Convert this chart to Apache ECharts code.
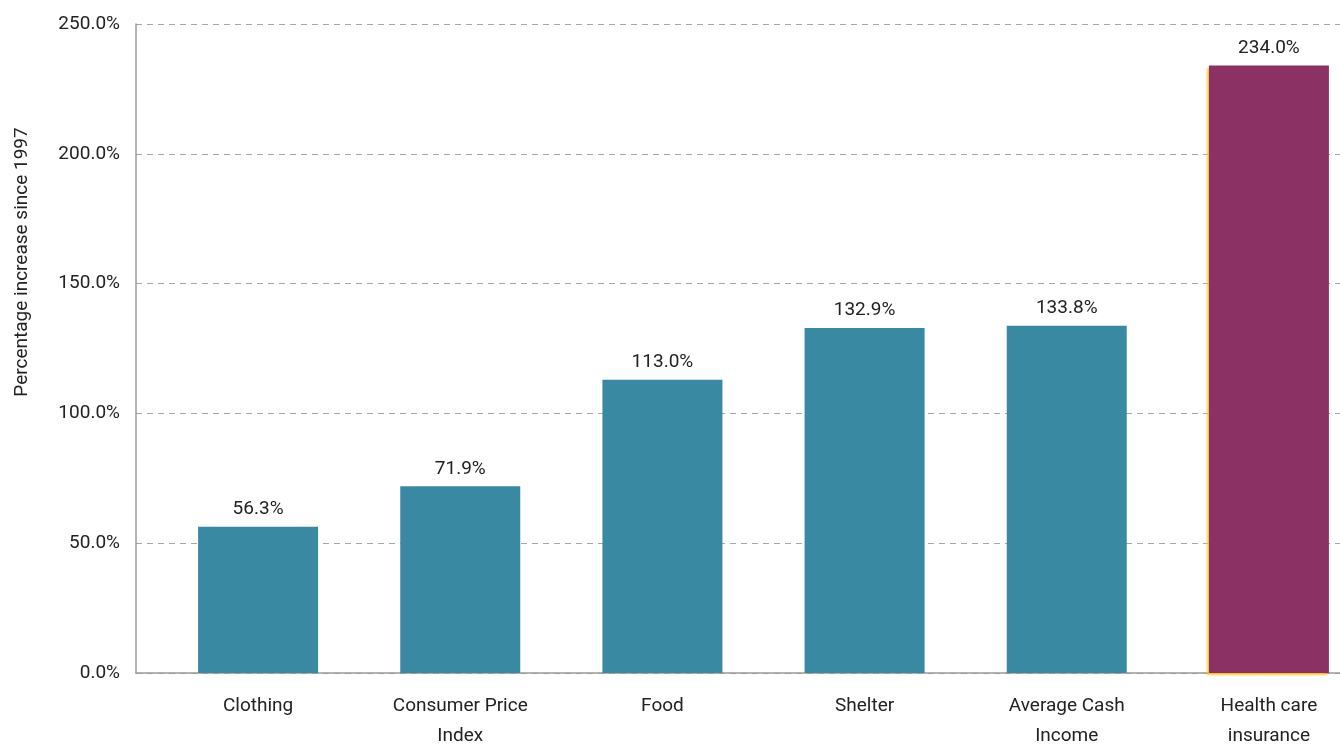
<!DOCTYPE html>
<html><head><meta charset="utf-8">
<script src="https://cdn.jsdelivr.net/npm/echarts@6/dist/echarts.min.js"></script>
<style>html,body{margin:0;padding:0;background:#fff}#c{width:1340px;height:744px}</style>
</head><body><div id="c"></div>
<script>
const categories = ['Clothing', 'Consumer Price\nIndex', 'Food', 'Shelter', 'Average Cash\nIncome', 'Health care\ninsurance'];
const values = [56.3, 71.9, 113.0, 132.9, 133.8, 234.0];
const yTicks = [0, 50, 100, 150, 200, 250];
const barColors = ['#3a89a3', '#3a89a3', '#3a89a3', '#3a89a3', '#3a89a3', '#8b3163'];
const yTitle = 'Percentage increase since 1997';
const FONT = 'Roboto';

const chart = echarts.init(document.getElementById('c'));
chart.setOption({
  animation: false,
  grid: [
    {left: 136, right: 0, top: 24, bottom: 71, outerBoundsMode: 'none', containLabel: false},
    {left: 157, right: -30, top: 24, bottom: 71, outerBoundsMode: 'none', containLabel: false}
  ],
  graphic: [{
    type: 'text', rotation: Math.PI/2, x: 22, y: 262,
    style: {text: yTitle, fill: '#222', font: '19px ' + FONT, textAlign: 'center', textVerticalAlign: 'middle'}
  }],
  xAxis: [
    {type: 'category', gridIndex: 0, data: categories.map(() => ''), axisLine: {lineStyle: {color: '#9a9a9a', width: 1.5}}, axisTick: {show: false}, axisLabel: {show: false}},
    {type: 'category', gridIndex: 1, data: categories, axisLine: {show: false}, axisTick: {show: false},
     axisLabel: {color: '#222', fontFamily: FONT, fontSize: 19, lineHeight: 30, margin: 18}}
  ],
  yAxis: [
    {type: 'value', gridIndex: 0, min: yTicks[0], max: yTicks[yTicks.length-1], interval: 50,
     axisLine: {show: true, lineStyle: {color: '#9a9a9a', width: 1.5}},
     axisTick: {show: false},
     splitLine: {lineStyle: {color: '#a6a6a6', type: [6, 5], width: 1.2}},
     axisLabel: {color: '#222', fontFamily: FONT, fontSize: 19, margin: 16, formatter: v => v.toFixed(1) + '%'}},
    {type: 'value', gridIndex: 1, min: yTicks[0], max: yTicks[yTicks.length-1], interval: 50, show: false}
  ],
  series: [{
    type: 'bar', xAxisIndex: 1, yAxisIndex: 1, barWidth: 120,
    data: values.map((v, i) => ({value: v, itemStyle: i === 5 ? {color: barColors[i], shadowColor: 'rgba(250,200,40,0.9)', shadowBlur: 2, shadowOffsetX: -2, shadowOffsetY: 2} : {color: barColors[i]}})),
    label: {show: true, position: 'top', distance: 8, color: '#222', fontFamily: FONT, fontSize: 19,
      formatter: p => p.value.toFixed(1) + '%'}
  }]
});
</script></body></html>
